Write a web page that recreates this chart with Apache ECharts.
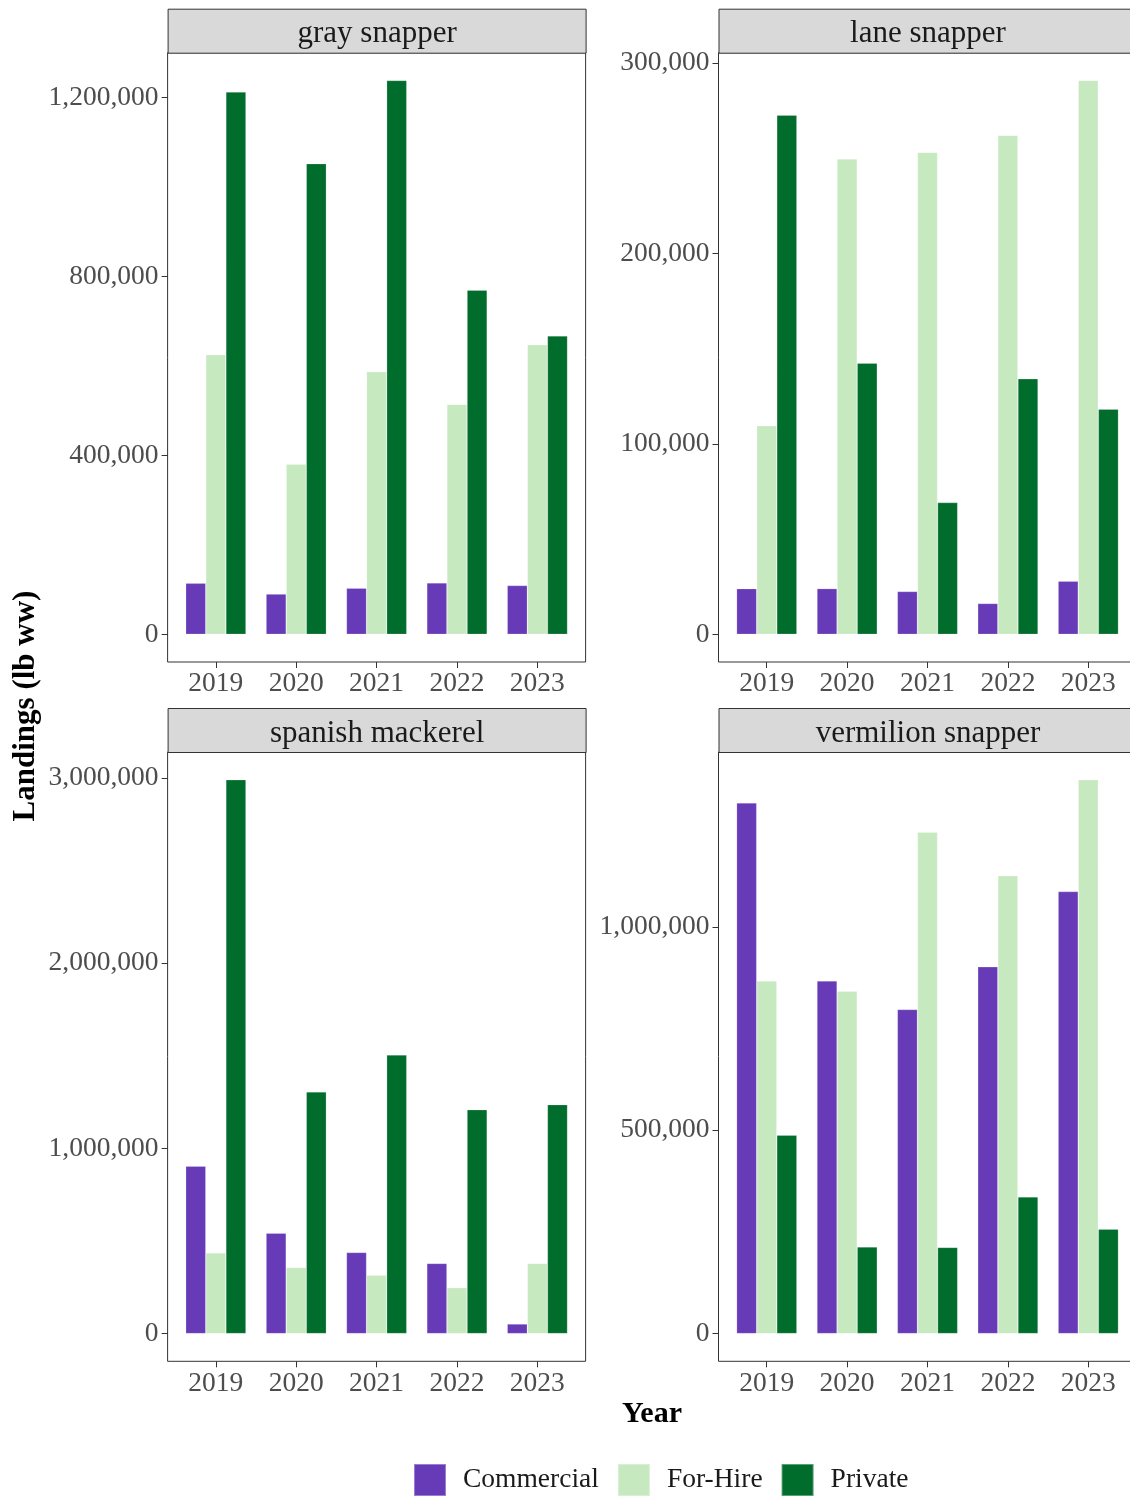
<!DOCTYPE html>
<html>
<head>
<meta charset="utf-8">
<script src="https://cdn.jsdelivr.net/npm/echarts@6/dist/echarts.min.js"></script>
<style>
  html, body { margin: 0; padding: 0; background: #ffffff; }
  #chart { width: 1130px; height: 1496px; }
</style>
</head>
<body>
<div id="chart"></div>
<script>
// ---------- DATA ----------
const years = ['2019', '2020', '2021', '2022', '2023'];
const sectors = ['Commercial', 'For-Hire', 'Private'];
const species = ['gray snapper', 'lane snapper', 'spanish mackerel', 'vermilion snapper'];

const graySnapperCommercial = [114000, 90000, 103000, 115000, 109000];
const graySnapperForHire    = [625000, 380000, 587000, 514000, 647000];
const graySnapperPrivate    = [1212000, 1052000, 1238000, 769000, 667000];

const laneSnapperCommercial = [24000, 24000, 22500, 16200, 27900];
const laneSnapperForHire    = [109500, 249600, 253100, 262000, 290900];
const laneSnapperPrivate    = [272600, 142400, 69200, 134200, 118200];

const spanishMackerelCommercial = [904000, 542000, 438000, 379000, 52000];
const spanishMackerelForHire    = [436000, 357000, 315000, 248000, 379000];
const spanishMackerelPrivate    = [2990000, 1305000, 1504000, 1209000, 1236000];

const vermilionSnapperCommercial = [1305000, 867000, 797000, 902000, 1087000];
const vermilionSnapperForHire    = [867000, 842000, 1233000, 1126000, 1362000];
const vermilionSnapperPrivate    = [488000, 213000, 212000, 336000, 257000];

const graySnapperTicks      = [0, 400000, 800000, 1200000];
const laneSnapperTicks      = [0, 100000, 200000, 300000];
const spanishMackerelTicks  = [0, 1000000, 2000000, 3000000];
const vermilionSnapperTicks = [0, 500000, 1000000];

// ---------- ASSEMBLY ----------
const panelData = [
  [graySnapperCommercial, graySnapperForHire, graySnapperPrivate],
  [laneSnapperCommercial, laneSnapperForHire, laneSnapperPrivate],
  [spanishMackerelCommercial, spanishMackerelForHire, spanishMackerelPrivate],
  [vermilionSnapperCommercial, vermilionSnapperForHire, vermilionSnapperPrivate]
];
const panelTicks = [graySnapperTicks, laneSnapperTicks, spanishMackerelTicks, vermilionSnapperTicks];

const colors = ['#673AB7', '#C7E9C0', '#006D2C'];
const serif = '"Liberation Serif", "Times New Roman", serif';
const tickFont = 27.5;

const panelW = 418, panelH = 609.3, stripH = 44;
const lefts = [167.6, 718.5, 167.6, 718.5];
const tops = [52.7, 52.7, 752, 752];
const xPos = years.map((y, i) => i + 1);

const grids = [], xAxes = [], yAxes = [], series = [], graphics = [];

for (let p = 0; p < 4; p++) {
  grids.push({
    left: lefts[p], top: tops[p], width: panelW, height: panelH,
    show: true, backgroundColor: '#ffffff', borderColor: '#333333', borderWidth: 1,
    containLabel: false, outerBoundsMode: 'none'
  });
  xAxes.push({
    type: 'value', gridIndex: p, min: 0.4, max: 5.6, position: 'bottom',
    axisLine: { show: false, onZero: false },
    splitLine: { show: false },
    axisTick: { show: true, customValues: xPos, length: 6, lineStyle: { color: '#333333', width: 1 } },
    axisLabel: {
      customValues: xPos, margin: 8,
      formatter: v => years[Math.round(v) - 1],
      fontFamily: serif, fontSize: tickFont, color: '#4D4D4D'
    }
  });
  const allVals = [].concat(...panelData[p]);
  const mx = Math.max(...allVals);
  yAxes.push({
    type: 'value', gridIndex: p, min: -0.05 * mx, max: 1.05 * mx, position: 'left',
    axisLine: { show: false, onZero: false },
    splitLine: { show: false },
    axisTick: { show: true, customValues: panelTicks[p], length: 6, lineStyle: { color: '#333333', width: 1 } },
    axisLabel: {
      customValues: panelTicks[p], margin: 9,
      formatter: v => Number(v).toLocaleString('en-US'),
      fontFamily: serif, fontSize: tickFont, color: '#4D4D4D',
      padding: [4, 0, 0, 0]
    }
  });
  for (let s = 0; s < 3; s++) {
    series.push({
      type: 'bar', name: sectors[s], xAxisIndex: p, yAxisIndex: p,
      barWidth: '25%', barGap: '0%',
      data: years.map((y, i) => [xPos[i], panelData[p][s][i]]),
      itemStyle: { color: colors[s], borderColor: 'rgba(255,255,255,0.35)', borderWidth: 0.6 },
      emphasis: { disabled: true }
    });
  }
  // facet strip
  graphics.push({
    type: 'group', left: lefts[p], top: tops[p] - stripH,
    children: [
      { type: 'rect', shape: { x: 0, y: 0, width: panelW, height: stripH },
        style: { fill: '#D9D9D9', stroke: '#333333', lineWidth: 1 } },
      { type: 'text', x: panelW / 2, y: stripH / 2 + 3,
        style: { text: species[p], fill: '#1A1A1A', font: '31px ' + serif, textAlign: 'center', textVerticalAlign: 'middle' } }
    ]
  });
}

graphics.push({
  type: 'text', x: 26, y: 706, rotation: Math.PI / 2,
  style: { text: 'Landings (lb ww)', fill: '#000000', font: 'bold 31px ' + serif, textAlign: 'center', textVerticalAlign: 'middle' }
});
graphics.push({
  type: 'text', x: 652, y: 1414,
  style: { text: 'Year', fill: '#000000', font: 'bold 30px ' + serif, textAlign: 'center', textVerticalAlign: 'middle' }
});

const chart = echarts.init(document.getElementById('chart'), null, { renderer: 'canvas' });
chart.setOption({
  animation: false,
  backgroundColor: '#ffffff',
  color: colors,
  grid: grids,
  xAxis: xAxes,
  yAxis: yAxes,
  series: series,
  legend: {
    data: sectors, left: 413, top: 1463, padding: 0,
    icon: 'rect', itemWidth: 32, itemHeight: 32, itemGap: 18,
    selectedMode: false,
    textStyle: { fontFamily: serif, fontSize: tickFont, color: '#1A1A1A', padding: [0, 0, 0, 12] }
  },
  graphic: graphics
});
</script>
</body>
</html>
